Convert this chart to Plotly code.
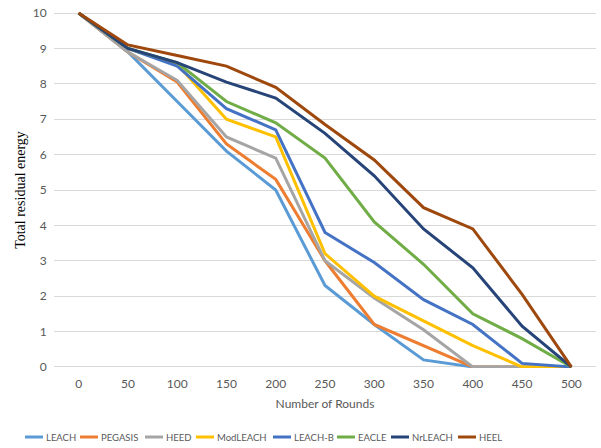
import plotly.graph_objects as go

rounds = [0, 50, 100, 150, 200, 250, 300, 350, 400, 450, 500]

leach    = [10, 8.9, 7.5, 6.1, 5.0, 2.3, 1.2, 0.2, 0, 0, 0]
pegasis  = [10, 8.9, 8.05, 6.3, 5.3, 3.0, 1.2, 0.6, 0, 0, 0]
heed     = [10, 8.9, 8.1, 6.5, 5.9, 3.0, 1.95, 1.05, 0, 0, 0]
modleach = [10, 9.0, 8.55, 7.0, 6.5, 3.2, 2.0, 1.3, 0.6, 0, 0]
leachb   = [10, 9.0, 8.5, 7.3, 6.7, 3.8, 2.95, 1.9, 1.2, 0.1, 0]
eacle    = [10, 9.0, 8.6, 7.5, 6.9, 5.9, 4.1, 2.9, 1.5, 0.8, 0]
nrleach  = [10, 9.0, 8.6, 8.05, 7.6, 6.6, 5.4, 3.9, 2.8, 1.15, 0]
heel     = [10, 9.1, 8.8, 8.5, 7.9, 6.85, 5.85, 4.5, 3.9, 2.05, 0]

names  = ["LEACH", "PEGASIS", "HEED", "ModLEACH", "LEACH-B", "EACLE", "NrLEACH", "HEEL"]
values = [leach, pegasis, heed, modleach, leachb, eacle, nrleach, heel]
colors = ["#5B9BD5", "#ED7D31", "#A5A5A5", "#FFC000", "#4472C4", "#70AD47", "#264478", "#9E480E"]

# the body margin is removed below, so the figure fills the window from (0, 0)
W, H = 601, 448
ML = 54
MT = 12
MR = W - 596
MB = H - 368
PW = W - ML - MR
PH = H - MT - MB

def px_x(p):
    return (p - ML) / PW

def px_y(p):
    return (H - MB - p) / PH

fig = go.Figure()
for name, vals, color in zip(names, values, colors):
    fig.add_trace(go.Scatter(x=rounds, y=vals, name=name, mode="lines",
                             line=dict(color=color, width=3)))

# legend laid out in a single row, Excel-style
legend_starts = [25, 80, 145, 196, 273, 337, 391, 458]
legend_y = 437
shapes = []
annotations = []
for name, color, sx in zip(names, colors, legend_starts):
    shapes.append(dict(type="line", xref="paper", yref="paper",
                       x0=px_x(sx), x1=px_x(sx + 18), y0=px_y(legend_y), y1=px_y(legend_y),
                       line=dict(color=color, width=3)))
    annotations.append(dict(xref="paper", yref="paper", x=px_x(sx + 19), y=px_y(legend_y),
                            xanchor="left", yanchor="middle", showarrow=False, text=name,
                            font=dict(family="Lato, sans-serif", size=9.5, color="#595959")))

font_family = "Lato, Liberation Sans, sans-serif"
fig.update_layout(
    width=W, height=H,
    margin=dict(l=ML, r=MR, t=MT, b=MB, autoexpand=False),
    paper_bgcolor="white", plot_bgcolor="white",
    font=dict(family=font_family, size=12, color="#595959"),
    showlegend=False,
    shapes=shapes, annotations=annotations,
    xaxis=dict(range=[-25, 525], tickvals=rounds, showgrid=False, zeroline=False,
               showline=False, ticks="outside", ticklen=5, tickcolor="rgba(0,0,0,0)",
               automargin=False, ticklabeloverflow="allow",
               title=dict(text="Number of Rounds", font=dict(size=12, color="#595959"), standoff=9)),
    yaxis=dict(range=[-0.03, 10.03], tickvals=list(range(0, 11)), showgrid=True,
               gridcolor="#D9D9D9", gridwidth=1, zeroline=False, showline=False,
               ticks="outside", ticklen=4, tickcolor="rgba(0,0,0,0)", automargin=False,
               ticklabeloverflow="allow",
               title=dict(text="Total residual energy",
                          font=dict(family="Liberation Serif, Times New Roman, serif", size=14, color="black"),
                          standoff=3)),
)

fig.write_html("out.html", config={"displayModeBar": False},
               post_script="document.body.style.margin='0';document.body.style.overflow='hidden';")
